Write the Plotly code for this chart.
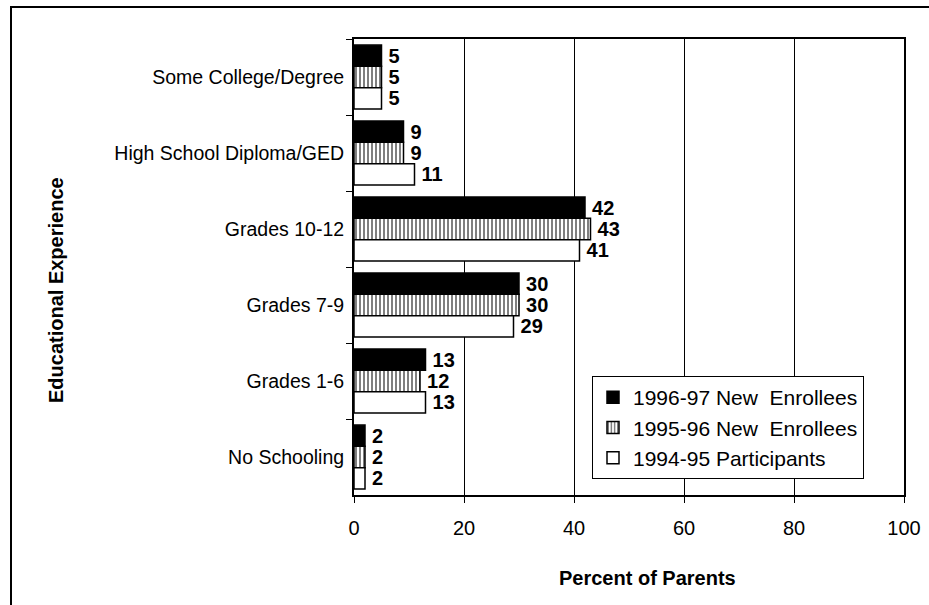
import plotly.graph_objects as go

categories = ["Some College/Degree", "High School Diploma/GED", "Grades 10-12",
              "Grades 7-9", "Grades 1-6", "No Schooling"]
enroll_9697 = [5, 9, 42, 30, 13, 2]
enroll_9596 = [5, 9, 43, 30, 12, 2]
part_9495 = [5, 11, 41, 29, 13, 2]
x_ticks = [0, 20, 40, 60, 80, 100]

FONT = "Liberation Sans, Arial, sans-serif"
label_font = dict(family=FONT, size=20, color="black", weight="bold")

fig = go.Figure()
series = [
    ("1996-97 New  Enrollees", enroll_9697, dict(color="black")),
    ("1995-96 New  Enrollees", enroll_9596,
     dict(color="white", pattern=dict(shape="|", fgcolor="black", bgcolor="white", size=4, solidity=0.5))),
    ("1994-95 Participants", part_9495, dict(color="white")),
]
for i, (name, vals, mk) in enumerate(series):
    mk = dict(mk)
    mk["line"] = dict(color="black", width=1.5)
    fig.add_trace(go.Bar(
        y=categories, x=vals, name=name, orientation="h", marker=mk,
        text=[str(v) for v in vals], texttemplate="\u2009%{text}", textposition="outside",
        textfont=label_font, constraintext="none", cliponaxis=False,
    ))

L, R, T, B = 354, 25, 39, 110
W, H = 929, 605
pw, ph = W - L - R, H - T - B

def px_x(p):
    return (p - L) / pw

def px_y(p):
    return (H - B - p) / ph

fig.update_layout(
    width=W, height=H,
    margin=dict(l=L, r=R, t=T, b=B, autoexpand=False),
    paper_bgcolor="white", plot_bgcolor="white",
    barmode="group", bargap=0.16, bargroupgap=0,
    font=dict(family=FONT, color="black"),
    showlegend=True,
    legend=dict(
        x=px_x(592), y=px_y(376), xanchor="left", yanchor="top",
        bgcolor="white", bordercolor="black", borderwidth=1,
        font=dict(family=FONT, size=21, color="black"),
        itemwidth=30, tracegroupgap=0,
        entrywidth=255, entrywidthmode="pixels",
    ),
    xaxis=dict(
        range=[0, 100], tickvals=x_ticks, ticktext=[str(v) for v in x_ticks],
        showgrid=True, gridcolor="black", gridwidth=1,
        showline=True, linecolor="black", linewidth=1.5, mirror=True,
        ticks="outside", ticklen=6, tickcolor="black",
        tickfont=dict(family=FONT, size=20, color="black"),
        ticklabelstandoff=8, zeroline=False,
    ),
    yaxis=dict(
        autorange="reversed", categoryorder="array", categoryarray=categories,
        showline=True, linecolor="black", linewidth=2, mirror=True,
        ticks="outside", ticklen=6, tickcolor="black", tickson="boundaries",
        tickfont=dict(family=FONT, size=19.5, color="black"),
        ticklabelstandoff=4, showgrid=False,
    ),
    annotations=[
        dict(text="<b>Percent of Parents</b>", x=px_x(647), y=px_y(578),
             xref="paper", yref="paper", showarrow=False,
             xanchor="center", yanchor="middle",
             font=dict(family=FONT, size=20, color="black")),
        dict(text="<b>Educational Experience</b>", x=px_x(56), y=px_y(290),
             xref="paper", yref="paper", showarrow=False, textangle=-90,
             xanchor="center", yanchor="middle",
             font=dict(family=FONT, size=20, color="black")),
    ],
    shapes=[
        dict(type="rect", xref="paper", yref="paper",
             x0=px_x(11), x1=px_x(940), y0=px_y(620), y1=px_y(7),
             line=dict(color="black", width=2), layer="below"),
    ],
)

fig.write_html("out.html", config={"displayModeBar": False},
               post_script="document.body.style.margin='0';")
